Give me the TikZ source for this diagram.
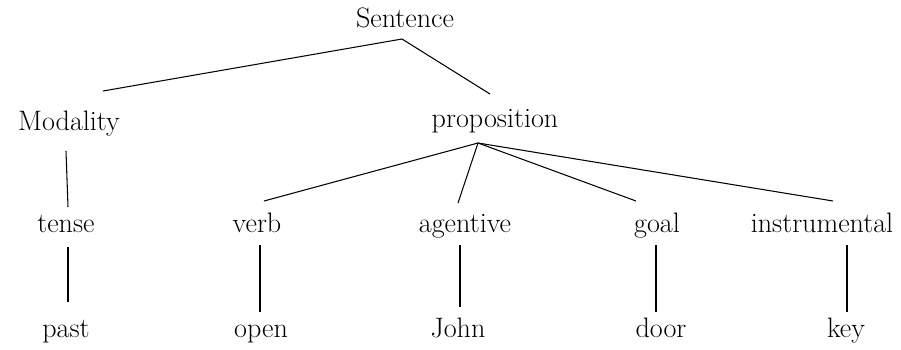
\documentclass[tikz,border=0pt]{standalone}
\usepackage{tikz}
\usetikzlibrary{calc}
\tikzset{word/.style={anchor=base, inner sep=0pt, font=\fontsize{16}{19}\selectfont}}
\begin{document}
\begin{tikzpicture}[x=0.02cm, y=-0.02cm, line width=0.6pt]
        \useasboundingbox (0,0) rectangle (901,349);
        % top
        \node[word] (sentence) at (405,27) {Sentence};
        \node[word] (modality) at (69,130) {Modality};
        \node[word] (proposition) at (495,127) {proposition};
        % cases
        \node[word] (tense) at (66,232) {tense};
        \node[word] (verb) at (257,232) {verb};
        \node[word] (agentive) at (465,232) {agentive};
        \node[word] (goal) at (657,232) {goal};
        \node[word] (instrumental) at (822,232) {instrumental};
        % fillers
        \node[word] (past) at (66,337) {past};
        \node[word] (open) at (261,337) {open};
        \node[word] (john) at (458,337) {John};
        \node[word] (door) at (661,337) {door};
        \node[word] (key) at (846,337) {key};
        % branches
        \draw ($(sentence.base)+(-3,12)$) -- ($(modality.base)+(34,-39)$);
        \draw ($(sentence.base)+(-3,12)$) -- ($(proposition.base)+(-5,-33)$);
        \draw ($(modality.base)+(-3,21)$) -- ($(tense.base)+(2,-25)$);
        \draw ($(proposition.base)+(-17,16)$) -- ($(verb.base)+(7,-31)$);
        \draw ($(proposition.base)+(-17,16)$) -- ($(agentive.base)+(-7,-29)$);
        \draw ($(proposition.base)+(-17,16)$) -- ($(goal.base)+(-21,-31)$);
        \draw ($(proposition.base)+(-17,16)$) -- ($(instrumental.base)+(11,-31)$);
        \draw ($(tense.base)+(2,15)$) -- ($(past.base)+(2,-35)$);
        \draw ($(verb.base)+(3,13)$) -- ($(open.base)+(-1,-25)$);
        \draw ($(agentive.base)+(-5,13)$) -- ($(john.base)+(2,-30)$);
        \draw ($(goal.base)+(-1,13)$) -- ($(door.base)+(-5,-25)$);
        \draw ($(instrumental.base)+(25,13)$) -- ($(key.base)+(1,-25)$);
\end{tikzpicture}
\end{document}
